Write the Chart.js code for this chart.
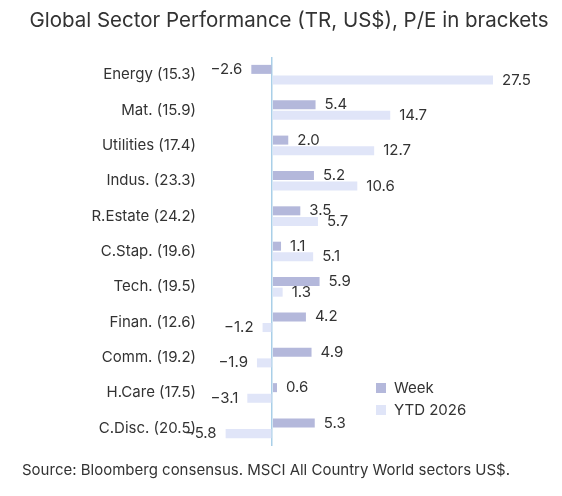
<!DOCTYPE html>
<html>
<head>
<meta charset="utf-8">
<script src="https://cdn.jsdelivr.net/npm/chart.js@4"></script>
<style>
  body { margin: 0; background: #fff; font-family: Inter, "Noto Sans", sans-serif; }
  #wrap { position: relative; width: 562px; height: 496px; }
  #title { position: absolute; top: 7px; left: 0; width: 578px; text-align: center; font-size: 20.5px; color: #333; }
  #source { position: absolute; top: 460px; left: 22px; font-size: 15px; color: #333; }
  .leg { position: absolute; left: 376px; font-size: 15px; color: #333; display: flex; align-items: center; }
  .leg span { display: inline-block; width: 10px; height: 10px; margin-right: 8px; }
</style>
</head>
<body>
<div id="wrap">
  <div id="title">Global Sector Performance (TR, US$), P/E in brackets</div>
  <canvas id="chart" width="562" height="496"></canvas>
  <div class="leg" style="top:378px"><span style="background:#b4b8db"></span>Week</div>
  <div class="leg" style="top:400px"><span style="background:#e0e5f8"></span>YTD 2026</div>
  <div id="source">Source: Bloomberg consensus. MSCI All Country World sectors US$.</div>
</div>
<script>
// Dados
const categorias = ['Energy (15.3)', 'Mat. (15.9)', 'Utilities (17.4)', 'Indus. (23.3)', 'R.Estate (24.2)', 'C.Stap. (19.6)',
    'Tech. (19.5)', 'Finan. (12.6)', 'Comm. (19.2)', 'H.Care (17.5)', 'C.Disc. (20.5)'];
const semana = [-2.6, 5.4, 2.0, 5.2, 3.5, 1.1, 5.9, 4.2, 4.9, 0.6, 5.3];
const ytd = [27.5, 14.7, 12.7, 10.6, 5.7, 5.1, 1.3, -1.2, -1.9, -3.1, -5.8];

// Rótulos de valores
const rotulos = {
    id: 'rotulos',
    afterDatasetsDraw(chart) {
        const ctx = chart.ctx;
        ctx.save();
        ctx.font = '15px Inter, "Noto Sans", sans-serif';
        ctx.fillStyle = '#333';
        ctx.textBaseline = 'middle';
        chart.data.datasets.forEach((ds, i) => {
            chart.getDatasetMeta(i).data.forEach((bar, j) => {
                const v = ds.data[j];
                const txt = v.toFixed(1).replace('-', '\u2212');
                if (v >= 0) { ctx.textAlign = 'left'; ctx.fillText(txt, bar.x + 9, bar.y); }
                else { ctx.textAlign = 'right'; ctx.fillText(txt, bar.x - 9, bar.y); }
            });
        });
        ctx.restore();
    }
};

new Chart(document.getElementById('chart'), {
    type: 'bar',
    data: {
        labels: categorias,
        datasets: [
            { label: 'Week', data: semana, backgroundColor: '#b4b8db' },
            { label: 'YTD 2026', data: ytd, backgroundColor: '#e0e5f8' }
        ]
    },
    options: {
        indexAxis: 'y',
        responsive: false,
        animation: false,
        categoryPercentage: 0.6,
        barPercentage: 0.85,
        layout: { padding: { top: 57, bottom: 50, right: 65, left: 6 } },
        plugins: { legend: { display: false }, tooltip: { enabled: false } },
        scales: {
            x: {
                min: -7, max: 28,
                ticks: { display: false, stepSize: 1 },
                border: { display: false },
                grid: { color: c => c.tick.value === 0 ? '#a9cfe8' : 'transparent', lineWidth: 1.5, drawTicks: false }
            },
            y: {
                grid: { display: false },
                border: { display: false },
                ticks: { color: '#333', font: { size: 15, family: 'Inter, "Noto Sans", sans-serif' }, padding: 12 },
                afterFit: s => { s.width = 210; }
            }
        }
    },
    plugins: [rotulos]
});
</script>
</body>
</html>
